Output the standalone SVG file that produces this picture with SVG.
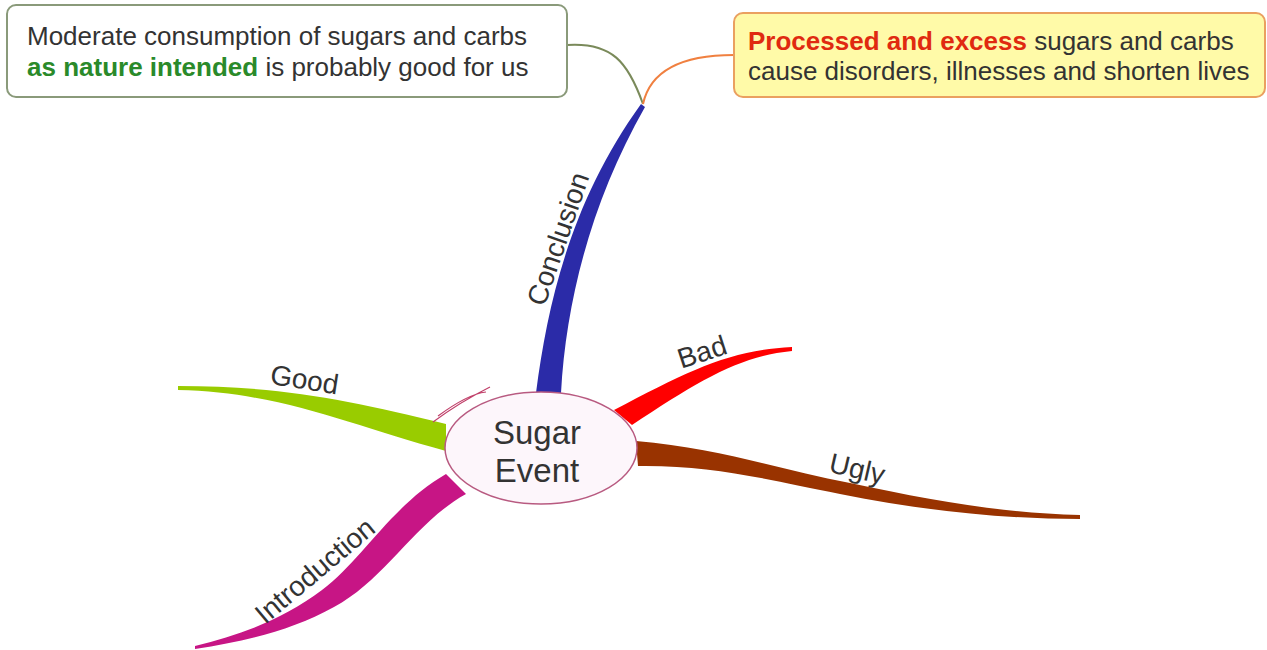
<svg xmlns="http://www.w3.org/2000/svg" width="1267" height="650" viewBox="0 0 1267 650">
<style>
.t{font-family:"Liberation Sans",Arial,sans-serif;fill:#333}
.box{font-size:26px}
.lab{font-size:28px}
.conn{fill:none;stroke-width:2}
</style>
<rect width="1267" height="650" fill="#fff"/>
<g id="connectors">
<path d="M536,393 C548,300 572,200 641,104 L645,107 C592,200 566,300 561,393 Z" fill="#2b2ba8"/>
<path d="M178,386 C280,386 350,400 446,424 L446,451 C350,425 280,392 178,390 Z" fill="#99cc00"/>
<path d="M446,474 C392,505 362,560 322,590 C282,620 240,635 195,646 L195,649 C248,641 292,630 334,607 C385,580 415,522 466,494 Z" fill="#c71585"/>
<path d="M614,410 C690,370 730,350 792,347 L792,351 C740,356 700,380 632,425 Z" fill="#ff0000"/>
<path d="M636,441 C720,448 780,470 850,483 C930,500 1000,513 1080,515 L1080,519 C1000,519 920,510 840,494 C760,478 710,465 638,466 Z" fill="#993300"/>
<path class="conn" d="M567,45 C612,42 628,62 643,104" stroke="#7a8a5a"/>
<path class="conn" d="M643,104 C650,72 680,55 734,55" stroke="#f08040"/>
</g>
<g id="center">
<path d="M433,422 Q460,402 490,387 M438,416 Q468,394 486,392" fill="none" stroke="#c0406a" stroke-width="1.2"/>
<ellipse cx="541" cy="448" rx="96" ry="56" fill="#fdf6fb" stroke="#b85a80" stroke-width="1.5"/>
<text class="t" x="537" y="444" font-size="33" text-anchor="middle" fill="#222">Sugar</text>
<text class="t" x="537" y="482" font-size="33" text-anchor="middle" fill="#222">Event</text>
</g>
<g id="conclusion-label"><text class="t lab" text-anchor="middle" transform="translate(567,242) rotate(-71)">Conclusion</text></g>
<g id="good-label"><text class="t lab" text-anchor="middle" transform="translate(303,389) rotate(9)">Good</text></g>
<g id="intro-label"><text class="t lab" text-anchor="middle" transform="translate(321,578) rotate(-40)">Introduction</text></g>
<g id="bad-label"><text class="t lab" text-anchor="middle" transform="translate(705,361) rotate(-18)">Bad</text></g>
<g id="ugly-label"><text class="t lab" text-anchor="middle" transform="translate(855,478) rotate(13)">Ugly</text></g>
<g id="box-good">
<rect x="7" y="5" width="560" height="92" rx="9" fill="#fff" stroke="#8a9a7a" stroke-width="2"/>
<text class="t box" x="27" y="45">Moderate consumption of sugars and carbs</text>
<text class="t box" x="27" y="76"><tspan fill="#2a8a2a" font-weight="bold">as nature intended</tspan> is probably good for us</text>
</g>
<g id="box-bad">
<rect x="734" y="13" width="531" height="84" rx="9" fill="#fffaa8" stroke="#eaa060" stroke-width="2"/>
<text class="t box" x="748" y="50" fill="#2a3a2a"><tspan fill="#e02a10" font-weight="bold">Processed and excess</tspan> sugars and carbs</text>
<text class="t box" x="748" y="80" fill="#2a3a2a">cause disorders, illnesses and shorten lives</text>
</g>
</svg>
